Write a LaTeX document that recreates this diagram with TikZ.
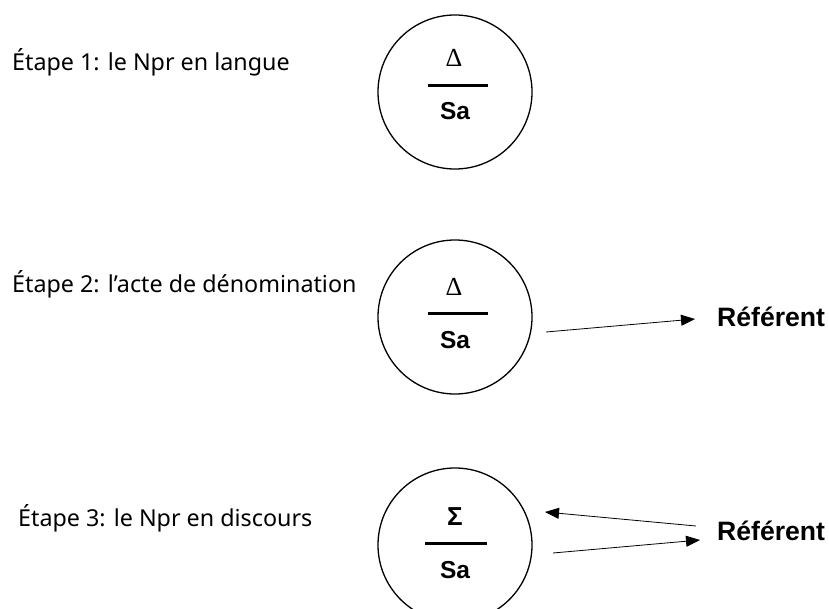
\documentclass[tikz,border=0pt]{standalone}
\usepackage{fontspec}
\setmainfont{Liberation Sans}
\newfontfamily\labelfont{Noto Sans}
\newfontfamily\greekfont{Liberation Serif}
\usetikzlibrary{arrows.meta}
\begin{document}
\begin{tikzpicture}[x=1pt,y=-1pt,
  ring/.style={draw,circle,line width=1.3pt,minimum size=154pt,inner sep=0pt},
  steplabel/.style={anchor=west,inner sep=0pt,font=\labelfont\fontsize{23.3}{27}\selectfont},
  sa/.style={anchor=base,inner sep=0pt,font=\bfseries\fontsize{24.5}{28}\selectfont},
  delta/.style={anchor=base,inner sep=0pt,font=\greekfont\fontsize{26}{30}\selectfont},
  sigma/.style={anchor=base,inner sep=0pt,font=\bfseries\fontsize{26}{30}\selectfont},
  refnode/.style={anchor=base west,inner sep=0pt,font=\bfseries\fontsize{26.6}{30}\selectfont},
  bar/.style={line width=3pt},
  arr/.style={line width=0.8pt,-{Triangle[length=14pt,width=11pt]}}]
\clip (0,0) rectangle (829,609);
\fill[white] (0,0) rectangle (829,609);

% Step labels
\node[steplabel] (l1) at (12,62) {Étape 1: le Npr en langue};
\node[steplabel] (l2) at (12,284) {Étape 2: l’acte de dénomination};
\node[steplabel] (l3) at (18,518) {Étape 3: le Npr en discours};

% Circles
\node[ring] (c1) at (455,92) {};
\node[ring] (c2) at (455,317) {};
\node[ring] (c3) at (455,545) {};

% Contents
\node[delta] (d1) at (454,67) {Δ};
\draw[bar] (428,86) -- (488,86);
\node[sa] (s1) at (455,120) {Sa};

\node[delta] (d2) at (454,295) {Δ};
\draw[bar] (428,313) -- (488,313);
\node[sa] (s2) at (455,348) {Sa};

\node[sigma] (g3) at (455,525) {Σ};
\draw[bar] (425,543) -- (487,543);
\node[sa] (s3) at (455,578) {Sa};

% Referents
\node[refnode] (r2) at (717,326) {Référent};
\node[refnode] (r3) at (717,540) {Référent};

% Arrow end points
\coordinate (a2s) at (546,332);
\coordinate (a2e) at (695,319);
\coordinate (a3s) at (696,526);
\coordinate (a3e) at (545,512);
\coordinate (b3s) at (553,553);
\coordinate (b3e) at (700,540);

\draw[arr] (a2s) -- (a2e);
\draw[arr] (a3s) -- (a3e);
\draw[arr] (b3s) -- (b3e);
\end{tikzpicture}
\end{document}
